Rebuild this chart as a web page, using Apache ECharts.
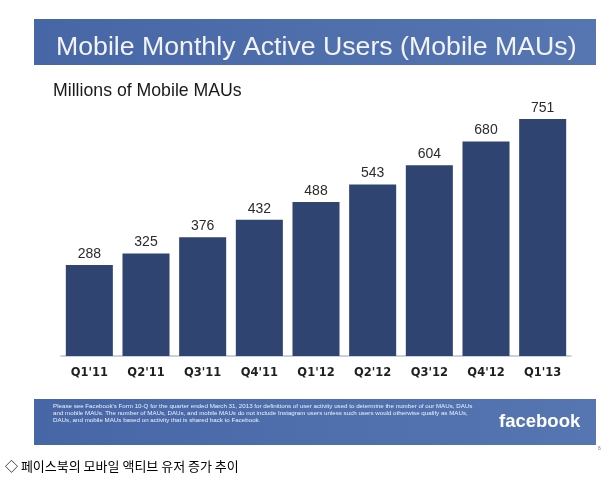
<!DOCTYPE html>
<html>
<head>
<meta charset="utf-8">
<script src="https://cdn.jsdelivr.net/npm/echarts@6/dist/echarts.min.js"></script>
<style>
  html, body { margin: 0; padding: 0; background: #fff; }
  #chart { width: 616px; height: 480px; }
</style>
</head>
<body>
<div id="chart"></div>
<script>
// quarters and mobile MAUs (millions)
const quarters = ["Q1'11", "Q2'11", "Q3'11", "Q4'11", "Q1'12", "Q2'12", "Q3'12", "Q4'12", "Q1'13"];
const mobileMAUs = [288, 325, 376, 432, 488, 543, 604, 680, 751];

const footNote = [
  "Please see Facebook's Form 10-Q for the quarter ended March 31, 2013 for definitions of user activity used to determine the number of our MAUs, DAUs",
  "and mobile MAUs. The number of MAUs, DAUs, and mobile MAUs do not include Instagram users unless such users would otherwise qualify as MAUs,",
  "DAUs, and mobile MAUs based on activity that is shared back to Facebook."
];

const myChart = echarts.init(document.getElementById('chart'), null, { renderer: 'canvas' });

const bannerColor = {
  type: 'linear', x: 0, y: 0, x2: 1, y2: 1,
  colorStops: [
    { offset: 0, color: '#4766a6' },
    { offset: 1, color: '#5676b2' }
  ]
};

const option = {
  backgroundColor: '#ffffff',
  animation: false,
  title: [
    {
      text: 'Mobile Monthly Active Users (Mobile MAUs)',
      left: 51, top: 29,
      textStyle: { color: '#f2f4f8', fontSize: 26.7, fontWeight: 'normal', fontFamily: 'Liberation Sans' }
    },
    {
      text: 'Millions of Mobile MAUs',
      left: 48, top: 77,
      textStyle: { color: '#1a1a1a', fontSize: 17.7, fontWeight: 'normal', fontFamily: 'Liberation Sans' }
    },
    {
      text: '◇ 페이스북의 모바일 액티브 유저 증가 추이',
      left: 0, top: 455,
      textStyle: { color: '#000', fontSize: 13, fontWeight: 'normal', fontFamily: 'Noto Sans CJK KR' }
    }
  ],
  graphic: [
    { type: 'rect', z: -1, shape: { x: 34, y: 19, width: 562, height: 46 }, style: { fill: bannerColor } },
    { type: 'rect', z: -1, shape: { x: 34, y: 399, width: 562, height: 46 }, style: { fill: bannerColor } },
    {
      type: 'text', left: 53, top: 403,
      style: { text: footNote.join('\n'), fill: '#eef1f8', font: '6.2px "Liberation Sans"', lineHeight: 6.8 }
    },
    {
      type: 'text', left: 499, top: 412,
      style: { text: 'facebook', fill: '#ffffff', font: 'bold 18.5px "Liberation Sans"' }
    },
    {
      type: 'text', left: 578, top: 424,
      style: { text: '.', fill: '#c9d2e6', font: '8px "Liberation Sans"' }
    },
    {
      type: 'text', left: 598, top: 446,
      style: { text: '6', fill: '#777', font: '5px "Liberation Sans"' }
    }
  ],
  grid: { left: 61, right: 45, top: 103.5, bottom: 124 },
  xAxis: {
    type: 'category',
    data: quarters,
    axisLine: { lineStyle: { color: '#b9c1d2', width: 1.5 } },
    axisTick: { show: false },
    axisLabel: {
      margin: 11,
      color: '#1f1f1f',
      fontSize: 11.5,
      fontWeight: 'bold',
      fontFamily: 'DejaVu Sans'
    }
  },
  yAxis: {
    type: 'value',
    min: 0, max: 800,
    show: false,
    splitLine: { show: false }
  },
  series: [{
    type: 'bar',
    data: mobileMAUs,
    barCategoryGap: '17%',
    itemStyle: { color: '#2f4471' },
    label: {
      show: true,
      position: 'top',
      distance: 4,
      color: '#2b2b2b',
      fontSize: 14,
      fontFamily: 'Liberation Sans'
    }
  }]
};

myChart.setOption(option);
</script>
</body>
</html>
